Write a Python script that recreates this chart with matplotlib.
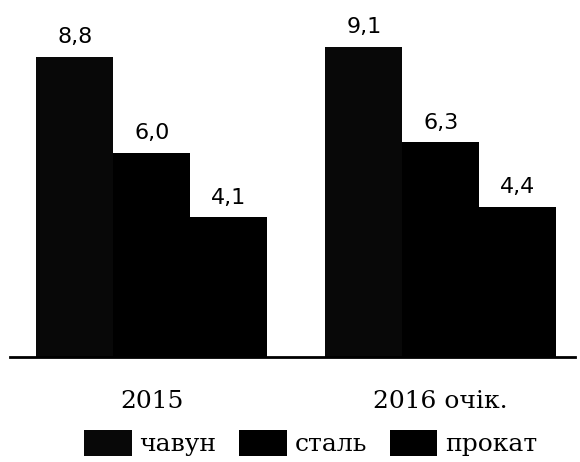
import numpy as np
import matplotlib
matplotlib.use("Agg")
import matplotlib.pyplot as plt

years = ["2015", "2016 очік."]
series = ["чавун", "сталь", "прокат"]
chavun = [8.8, 9.1]
stal = [6.0, 6.3]
prokat = [4.1, 4.4]

plt.rcParams['font.family'] = ['DejaVu Serif']

fig = plt.figure(figsize=(5.8, 4.62), dpi=100)
ax = fig.add_axes([0.017, 0.227, 0.974, 0.738])

x = np.arange(len(years))
w = 0.266
colors = ['#080808', '#000000', '#000000']
bars = []
for i, (name, vals) in enumerate(zip(series, [chavun, stal, prokat])):
    b = ax.bar(x + (i - 1) * w, vals, w, color=colors[i], label=name)
    ax.bar_label(b, labels=[f"{v:.1f}".replace('.', ',') for v in vals],
                 padding=7, fontsize=16, family='DejaVu Sans')
    bars.append(b)

ax.set_xlim(-0.491, 1.464)
ax.set_ylim(0, 10)
for s in ['top', 'right', 'left']:
    ax.spines[s].set_visible(False)
ax.spines['bottom'].set_linewidth(2)
ax.set_yticks([])
ax.set_xticks(x)
ax.set_xticklabels(years, fontsize=18)
ax.tick_params(axis='x', length=0, pad=24)

fig.legend(handles=bars, labels=series, loc='upper left',
           bbox_to_anchor=(84 / 580, 1 - 430 / 462), ncol=3, frameon=False,
           fontsize=18, handlelength=1.9, handleheight=1.2,
           handletextpad=0.32, columnspacing=0.9, borderpad=0, borderaxespad=0)

fig.savefig("out.png", dpi=100)
